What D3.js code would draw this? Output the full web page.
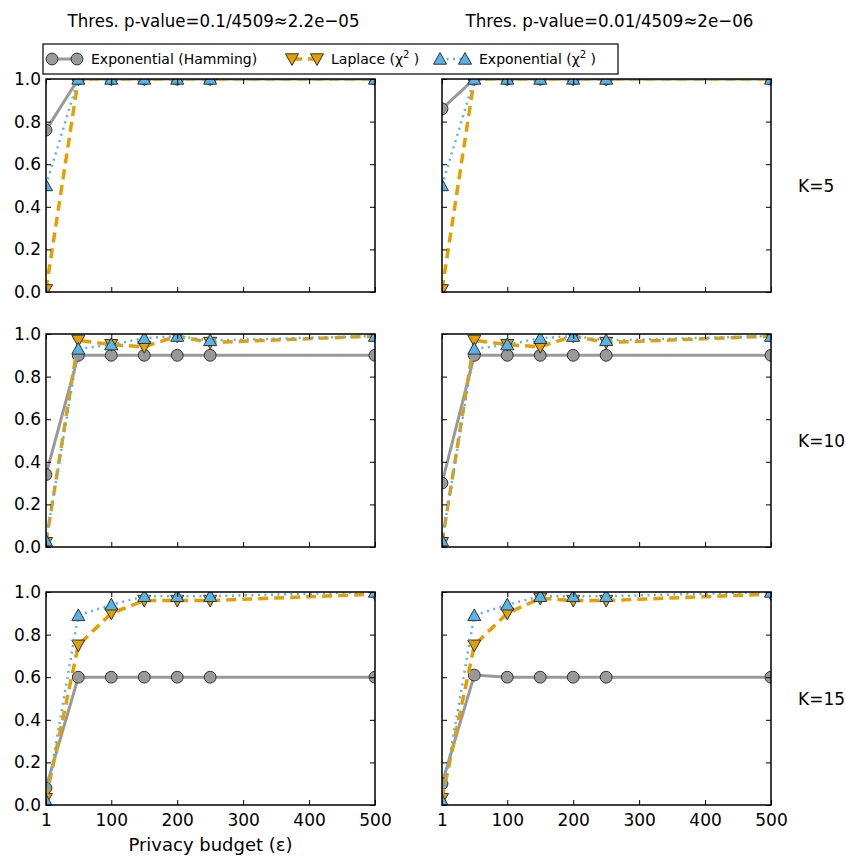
<!DOCTYPE html>
<html><head><meta charset="utf-8">
<script src="https://cdn.jsdelivr.net/npm/d3@7"></script>
<style>body{margin:0;background:#fff}svg{display:block}</style>
</head><body>
<script>
// ---- data ----
const epsilons = [1, 50, 100, 150, 200, 250, 500];
const xTicks = [1, 100, 200, 300, 400, 500];
const yTicks = [0, 0.2, 0.4, 0.6, 0.8, 1.0];
const colTitles = ["Thres. p-value=0.1/4509\u22482.2e\u221205", "Thres. p-value=0.01/4509\u22482e\u221206"];
const rowLabels = ["K=5", "K=10", "K=15"];
const seriesNames = ["Exponential (Hamming)", "Laplace (\u03c7\u00b2)", "Exponential (\u03c7\u00b2)"];

const hamK5a  = [0.76, 1, 1, 1, 1, 1, 1];
const lapK5a  = [0.01, 1, 1, 1, 1, 1, 1];
const expK5a  = [0.50, 1, 1, 1, 1, 1, 1];
const hamK5b  = [0.86, 1, 1, 1, 1, 1, 1];
const lapK5b  = [0.01, 1, 1, 1, 1, 1, 1];
const expK5b  = [0.50, 1, 1, 1, 1, 1, 1];
const hamK10a = [0.34, 0.90, 0.90, 0.90, 0.90, 0.90, 0.90];
const lapK10a = [0.02, 0.97, 0.95, 0.94, 0.99, 0.96, 0.99];
const expK10a = [0.03, 0.93, 0.95, 0.98, 0.99, 0.97, 0.99];
const hamK10b = [0.30, 0.90, 0.90, 0.90, 0.90, 0.90, 0.90];
const lapK10b = [0.02, 0.97, 0.95, 0.94, 0.99, 0.96, 0.99];
const expK10b = [0.03, 0.93, 0.95, 0.98, 0.99, 0.97, 0.99];
const hamK15a = [0.08, 0.60, 0.60, 0.60, 0.60, 0.60, 0.60];
const lapK15a = [0.03, 0.75, 0.90, 0.96, 0.96, 0.96, 0.99];
const expK15a = [0.02, 0.89, 0.94, 0.98, 0.98, 0.98, 1.00];
const hamK15b = [0.10, 0.61, 0.60, 0.60, 0.60, 0.60, 0.60];
const lapK15b = [0.03, 0.75, 0.90, 0.97, 0.96, 0.96, 0.99];
const expK15b = [0.02, 0.89, 0.94, 0.98, 0.98, 0.98, 1.00];

const panels = [
  [[hamK5a, lapK5a, expK5a], [hamK5b, lapK5b, expK5b]],
  [[hamK10a, lapK10a, expK10a], [hamK10b, lapK10b, expK10b]],
  [[hamK15a, lapK15a, expK15a], [hamK15b, lapK15b, expK15b]]
];

// ---- layout / style ----
const W = 846, H = 856;
const colX = [46, 442], pw = 329;
const rowY = [79, 334, 592], ph = 213;
const styles = [
  {color: "#999999", width: 3, dash: null, marker: "circle"},
  {color: "#E69F00", width: 3.5, dash: "10,6", marker: "down"},
  {color: "#56B4E9", width: 2.5, dash: "2,4.5", marker: "up"}
];
const font = "'DejaVu Sans', Verdana, sans-serif";

const svg = d3.select("body").append("svg").attr("width", W).attr("height", H)
  .style("font-family", font);

function markerPath(type) {
  if (type === "circle") return d3.symbol(d3.symbolCircle, 110)();
  const s = 6.5;
  if (type === "up") return `M0,${-s}L${s},${s*0.8}L${-s},${s*0.8}Z`;
  return `M0,${s}L${s},${-s*0.8}L${-s},${-s*0.8}Z`;
}

const x = d3.scaleLinear().domain([1, 500]).range([0, pw]);
const y = d3.scaleLinear().domain([0, 1]).range([ph, 0]);

panels.forEach((row, ri) => {
  row.forEach((series, ci) => {
    const g = svg.append("g").attr("transform", `translate(${colX[ci]},${rowY[ri]})`);
    const cid = `clip${ri}${ci}`;
    g.append("clipPath").attr("id", cid).append("rect").attr("width", pw).attr("height", ph);
    const plot = g.append("g").attr("clip-path", `url(#${cid})`);
    series.forEach((vals, si) => {
      const st = styles[si];
      const pts = epsilons.map((e, i) => [e, vals[i]]);
      const line = d3.line().x(d => x(d[0])).y(d => y(d[1]));
      plot.append("path").attr("d", line(pts)).attr("fill", "none")
        .attr("stroke", st.color).attr("stroke-width", st.width)
        .attr("stroke-dasharray", st.dash).attr("stroke-linejoin", "round");
      plot.selectAll(null).data(pts).enter().append("path")
        .attr("d", markerPath(st.marker))
        .attr("transform", d => `translate(${x(d[0])},${y(d[1])})`)
        .attr("fill", st.color).attr("stroke", "#333").attr("stroke-width", 1);
    });
    const tl = 5;
    const axL = g.append("g").call(d3.axisLeft(y).tickValues(yTicks).tickSizeInner(-tl).tickSizeOuter(0)
      .tickFormat(ci === 0 ? d3.format(".1f") : () => ""));
    const axR = g.append("g").attr("transform", `translate(${pw},0)`)
      .call(d3.axisRight(y).tickValues(yTicks).tickSizeInner(-tl).tickSizeOuter(0).tickFormat(() => ""));
    const axB = g.append("g").attr("transform", `translate(0,${ph})`)
      .call(d3.axisBottom(x).tickValues(xTicks).tickSizeInner(-tl).tickSizeOuter(0)
        .tickFormat(ri === 2 ? d3.format("d") : () => ""));
    const axT = g.append("g").call(d3.axisTop(x).tickValues(xTicks).tickSizeInner(-tl).tickSizeOuter(0).tickFormat(() => ""));
    [axL, axR, axB, axT].forEach(a => {
      a.select(".domain").remove();
      a.selectAll("line").attr("stroke", "#000").attr("stroke-width", 1);
      a.selectAll("text").attr("font-family", font).attr("font-size", 17).attr("fill", "#000");
    });
    axL.selectAll("text").attr("x", -5);
    axB.selectAll("text").attr("y", 9);
    g.append("rect").attr("width", pw).attr("height", ph).attr("fill", "none")
      .attr("stroke", "#000").attr("stroke-width", 1.5);
  });
});

// column titles
colTitles.forEach((t, ci) => {
  svg.append("text").attr("x", colX[ci] + pw / 2 + 3).attr("y", 27).attr("text-anchor", "middle")
    .attr("font-size", 18).attr("textLength", ci === 0 ? 292 : 288).attr("lengthAdjust", "spacingAndGlyphs")
    .text(t);
});
// row labels
rowLabels.forEach((t, ri) => {
  svg.append("text").attr("x", 798).attr("y", rowY[ri] + ph / 2 + 6)
    .attr("font-size", 17).text(t);
});
// x label
svg.append("text").attr("x", colX[0] + pw / 2).attr("y", 851).attr("text-anchor", "middle")
  .attr("font-size", 18).text("Privacy budget (\u03b5)");

// legend
const lg = svg.append("g");
lg.append("rect").attr("x", 43).attr("y", 44).attr("width", 575).attr("height", 30)
  .attr("fill", "#fff").attr("stroke", "#000").attr("stroke-width", 1.2);
const legX = [52, 292, 440];
seriesNames.forEach((n, si) => {
  const st = styles[si];
  const gx = legX[si], gy = 59;
  lg.append("line").attr("x1", gx).attr("x2", gx + 25).attr("y1", gy).attr("y2", gy)
    .attr("stroke", st.color).attr("stroke-width", st.width).attr("stroke-dasharray", st.dash);
  [gx, gx + 25].forEach(mx => lg.append("path").attr("d", markerPath(st.marker))
    .attr("transform", `translate(${mx},${gy})`).attr("fill", st.color).attr("stroke", "#333"));
  const txt = lg.append("text").attr("x", gx + 39).attr("y", gy + 5).attr("font-size", 14);
  if (si === 0) txt.text(n);
  else {
    const base = si === 1 ? "Laplace (\u03c7" : "Exponential (\u03c7";
    txt.append("tspan").text(base);
    txt.append("tspan").attr("dy", -6).attr("font-size", 10).text("2");
    txt.append("tspan").attr("dy", 6).text(" )");
  }
});
</script>
</body></html>
